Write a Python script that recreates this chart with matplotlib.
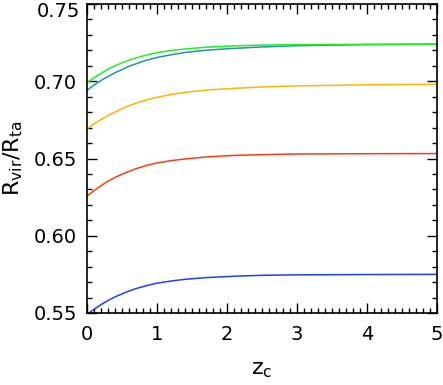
import matplotlib
matplotlib.use("Agg")
import matplotlib.pyplot as plt
from matplotlib.ticker import MultipleLocator, FixedLocator, FixedFormatter

plt.rcParams['font.family'] = ['DejaVu Sans']
plt.rcParams['mathtext.default'] = 'regular'

z = [0, 0.1, 0.2, 0.3, 0.4, 0.5, 0.6, 0.7, 0.85, 1.0, 1.2, 1.4, 1.7, 2.1, 2.5, 3, 4, 5]
green = [0.6990, 0.7023, 0.7051, 0.7078, 0.7100, 0.7119, 0.7136, 0.7151, 0.7170, 0.7185,
         0.7199, 0.7209, 0.7220, 0.7229, 0.7234, 0.7237, 0.7239, 0.7240]
teal = [0.6942, 0.6975, 0.7005, 0.7031, 0.7055, 0.7076, 0.7097, 0.7113, 0.7136, 0.7154,
        0.7171, 0.7186, 0.7201, 0.7213, 0.7222, 0.7230, 0.7237, 0.7240]
orange = [0.6692, 0.6724, 0.6752, 0.6778, 0.6801, 0.6822, 0.6842, 0.6858, 0.6879, 0.6896,
          0.6914, 0.6928, 0.6943, 0.6954, 0.6963, 0.6970, 0.6977, 0.6980]
red = [0.6256, 0.6292, 0.6324, 0.6353, 0.6377, 0.6398, 0.6417, 0.6434, 0.6455, 0.6471,
       0.6486, 0.6497, 0.6510, 0.6520, 0.6525, 0.6529, 0.6531, 0.6532]
blue = [0.5490, 0.5524, 0.5554, 0.5581, 0.5604, 0.5624, 0.5642, 0.5658, 0.5677, 0.5693,
        0.5707, 0.5718, 0.5729, 0.5738, 0.5744, 0.5747, 0.5749, 0.5750]

yticks = [0.55, 0.60, 0.65, 0.70, 0.75]
ytick_labels = ['0.55', '0.60', '0.65', '0.70', '0.75']

series = [(blue, '#1f3dff'), (red, '#ff3a12'), (orange, '#ffb400'),
          (teal, '#1a9aa0'), (green, '#22ee22')]

fig = plt.figure(figsize=(4.43, 3.85), dpi=100)
ax = fig.add_axes([87/443, (385-313)/385, 350/443, 309/385])

for vals, c in series:
    ax.plot(z, vals, color=c, lw=1.1)

ax.set_xlim(0, 5)
ax.set_ylim(0.55, 0.75)
ax.xaxis.set_major_locator(MultipleLocator(1))
ax.xaxis.set_minor_locator(MultipleLocator(0.1))
ax.yaxis.set_major_locator(FixedLocator(yticks))
ax.yaxis.set_minor_locator(MultipleLocator(0.01))
# top label is drawn separately so that it stays inside the figure
ax.yaxis.set_major_formatter(FixedFormatter(ytick_labels[:-1] + ['']))
ax.tick_params(which='both', direction='in', top=True, right=True, width=1.0,
               labelsize=14, colors='black')
ax.tick_params(which='major', length=7)
ax.tick_params(axis='x', which='major', pad=9)
ax.tick_params(axis='y', which='major', pad=7)
ax.tick_params(which='minor', length=3.5)
for s in ax.spines.values():
    s.set_linewidth(1.2)

ax.annotate(ytick_labels[-1], xy=(0, yticks[-1]), xycoords=('axes fraction', 'data'),
            xytext=(-7, 2), textcoords='offset pixels', ha='right', va='top',
            fontsize=14, annotation_clip=False)

ax.set_xlabel(r'z$_{c}$', fontsize=16, labelpad=11)
ax.set_ylabel(r'R$_{vir}$/R$_{ta}$', fontsize=16, labelpad=6)

fig.savefig('out.png', dpi=100)
